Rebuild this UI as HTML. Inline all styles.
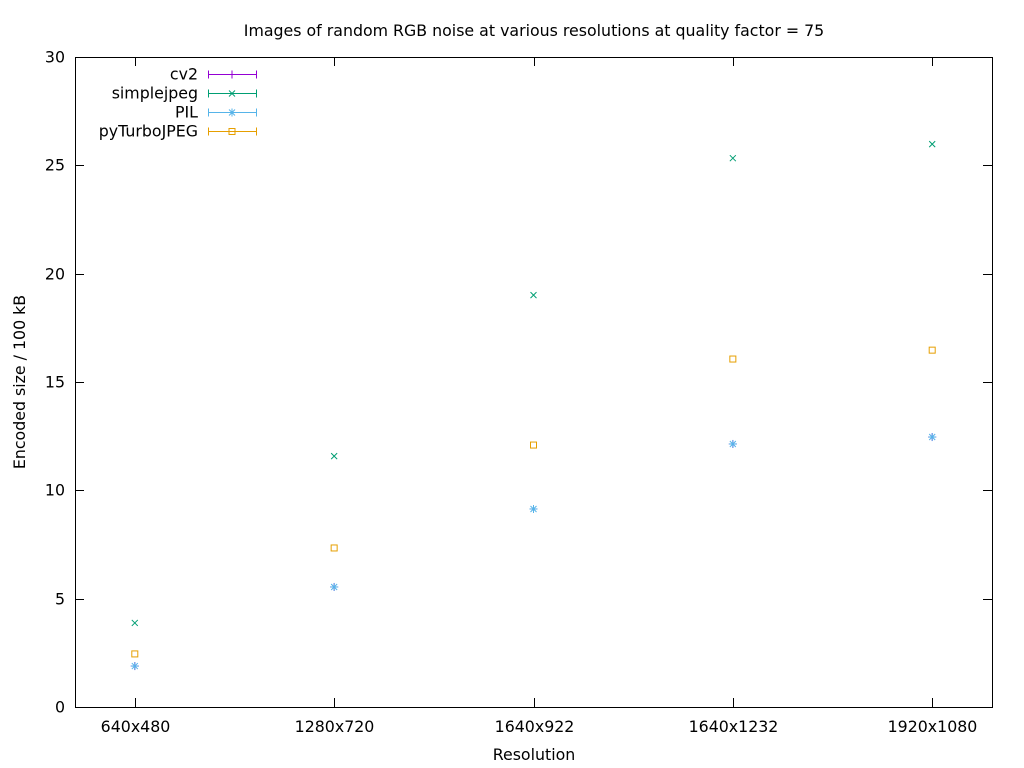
<!DOCTYPE html>
<html><head><meta charset="utf-8"><style>
body{margin:0;background:#fff;}
svg{display:block;font-family:"DejaVu Sans","Liberation Sans",sans-serif;font-size:15.8px;}
</style></head><body>
<svg id="chart" width="1024" height="768"></svg>
<script>
const categories = ["640x480","1280x720","1640x922","1640x1232","1920x1080"];
const seriesNames = ["cv2","simplejpeg","PIL","pyTurboJPEG"];
const cv2Values = [1.89,5.54,9.14,12.14,12.46];
const simplejpegValues = [3.88,11.58,19.01,25.33,25.98];
const pilValues = [1.89,5.54,9.14,12.14,12.46];
const turboValues = [2.45,7.34,12.09,16.06,16.47];
const yTicks = [0,5,10,15,20,25,30];

const NS="http://www.w3.org/2000/svg";
const svg=document.getElementById('chart');
const L=75,R=992,T=57,B=707;
const xs=i=>L+(i+0.3)*(R-L)/4.6;
const ys=v=>B-v*(B-T)/30;
function mk(tag,attrs,parent){const e=document.createElementNS(NS,tag);for(const k in attrs)e.setAttribute(k,attrs[k]);(parent||svg).appendChild(e);return e;}
function txt(x,y,s,anchor,name){const t=mk('text',{x:x,y:y,'text-anchor':anchor,fill:'#000'});t.textContent=s;


return t;}

const frame=mk('rect',{x:L+0.5,y:T+0.5,width:R-L,height:B-T,fill:'none',stroke:'#000','stroke-width':1,'shape-rendering':'crispEdges'});



yTicks.forEach(v=>{const y=Math.round(ys(v))+0.5;
mk('line',{x1:L,x2:L+9,y1:y,y2:y,stroke:'#000','shape-rendering':'crispEdges'});
mk('line',{x1:R,x2:R-9,y1:y,y2:y,stroke:'#000','shape-rendering':'crispEdges'});
txt(L-10,y+5,String(v),'end','y-tick-label');});
categories.forEach((c,i)=>{const x=Math.round(xs(i))+0.5;
mk('line',{x1:x,x2:x,y1:B,y2:B-9,stroke:'#000','shape-rendering':'crispEdges'});
mk('line',{x1:x,x2:x,y1:T,y2:T+9,stroke:'#000','shape-rendering':'crispEdges'});
txt(x,732,c,'middle','x-tick-label');});

txt(534,36,'Images of random RGB noise at various resolutions at quality factor = 75','middle','chart-title');
txt(534,760,'Resolution','middle','x-axis-title');
const yt=txt(0,0,'Encoded size / 100 kB','middle','y-axis-title');
yt.setAttribute('transform','translate(25,382) rotate(-90)');

const colors=['#9400d3','#009e73','#56b4e9','#e69f00'];
function marker(kind,x,y,c){const g=mk('g',{stroke:c,fill:'none','stroke-width':1});
if(kind===0||kind===2){mk('line',{x1:x-4,x2:x+4,y1:y,y2:y},g);mk('line',{x1:x,x2:x,y1:y-4,y2:y+4},g);}
if(kind===1||kind===2){mk('line',{x1:x-3,x2:x+3,y1:y-3,y2:y+3},g);mk('line',{x1:x-3,x2:x+3,y1:y+3,y2:y-3},g);}
if(kind===3){mk('rect',{x:x-3,y:y-3,width:6,height:6},g);}
return g;}
const allVals=[cv2Values,simplejpegValues,pilValues,turboValues];
allVals.forEach((vals,s)=>{vals.forEach((v,i)=>{const g=marker(s,xs(i),ys(v),colors[s]);

});});

seriesNames.forEach((n,s)=>{const y=74+s*19+0.5;
txt(198,y+5,n,'end','legend-label');
const g=mk('g',{stroke:colors[s],'shape-rendering':'crispEdges'});


mk('line',{x1:208,x2:257,y1:y,y2:y},g);
mk('line',{x1:208.5,x2:208.5,y1:y-4,y2:y+4},g);
mk('line',{x1:256.5,x2:256.5,y1:y-4,y2:y+4},g);
marker(s,232,y,colors[s]);});
</script>
</body></html>
